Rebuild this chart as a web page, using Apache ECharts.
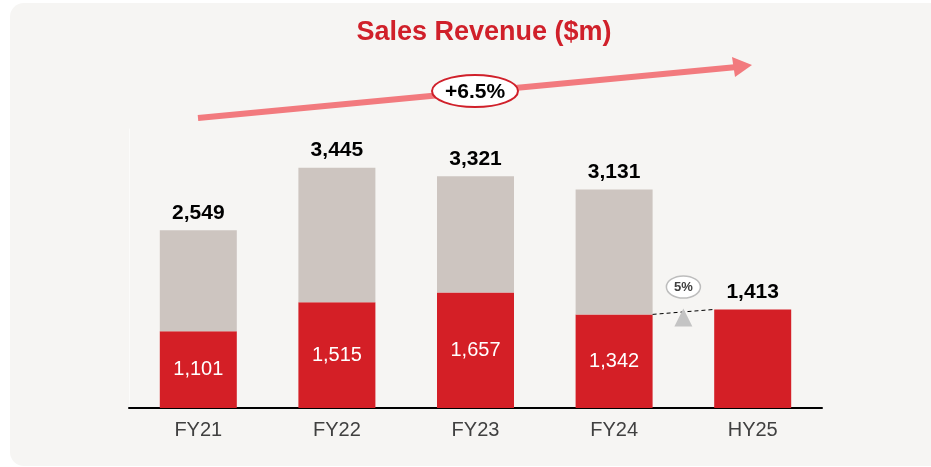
<!DOCTYPE html>
<html><head><meta charset="utf-8">
<script src="https://cdn.jsdelivr.net/npm/echarts@6/dist/echarts.min.js"></script>
<style>html,body{margin:0;padding:0;background:#fff}#c{width:931px;height:467px}</style>
</head><body><div id="c"></div>
<script>
const categories = ['FY21','FY22','FY23','FY24','HY25'];
const totals = [2549, 3445, 3321, 3131, 1413];
const redValues = [1101, 1515, 1657, 1342, 1413];
const grayValues = [1448, 1930, 1664, 1789, 0];
const cagrLabel = '+6.5%';
const growthLabel = '5%';

const chart = echarts.init(document.getElementById('c'), null, {renderer:'canvas'});
const FONT = 'Liberation Sans, Arial, sans-serif';
const fmt = v => v.toLocaleString('en-US');

chart.setOption({
  backgroundColor: '#ffffff',
  animation: false,
  grid: {left: 129, right: 109, top: 129, bottom: 59},
  xAxis: {
    type: 'category', data: categories,
    axisLine: {lineStyle: {color: '#000', width: 2}},
    axisTick: {show: false},
    axisLabel: {color: '#404040', fontSize: 20, fontFamily: FONT, margin: 12}
  },
  yAxis: {
    type: 'value', min: 0, max: 4000,
    axisLine: {show: true, lineStyle: {color: '#fbfbfa', width: 1}},
    splitLine: {show: false}, axisLabel: {show: false}, axisTick: {show: false}
  },
  series: [
    {
      type: 'bar', stack: 'rev', data: redValues, barWidth: 77,
      itemStyle: {color: '#d41f26'},
      label: {show: true, position: 'inside', color: '#fff', fontSize: 20, fontFamily: FONT,
        formatter: p => p.dataIndex === 4 ? '' : fmt(p.value)}
    },
    {
      type: 'bar', stack: 'rev', data: grayValues, barWidth: 77,
      itemStyle: {color: '#cdc5c0'},
      label: {show: true, position: 'top', distance: 7, color: '#000', fontSize: 21, fontWeight: 'bold', fontFamily: FONT,
        formatter: p => fmt(totals[p.dataIndex])}
    }
  ],
  graphic: []
});

const p24 = chart.convertToPixel({gridIndex: 0}, [3, redValues[3]]);
const p25 = chart.convertToPixel({gridIndex: 0}, [4, redValues[4]]);
const half = 38.5;
const midX = (p24[0] + p25[0]) / 2;

chart.setOption({
  graphic: [
    {type: 'rect', z: -10, silent: true, shape: {x: 10, y: 3, width: 940, height: 463, r: 14},
      style: {fill: '#f6f5f3'}},
    {type: 'text', x: 484, y: 33, style: {text: 'Sales Revenue ($m)', fill: '#d0202a',
      font: 'bold 27px ' + FONT, textAlign: 'center', textVerticalAlign: 'middle'}},
    {type: 'line', shape: {x1: 198, y1: 118, x2: 737, y2: 67}, style: {stroke: '#f27a7e', lineWidth: 6}},
    {type: 'polygon', shape: {points: [[752, 65], [732, 57], [735, 77]]}, style: {fill: '#f27a7e'}},
    {type: 'ellipse', shape: {cx: 475, cy: 91, rx: 43, ry: 16}, style: {fill: '#fff', stroke: '#d0202a', lineWidth: 2}, z: 10},
    {type: 'text', x: 475, y: 92, z: 11, style: {text: cagrLabel, fill: '#000', font: 'bold 21px ' + FONT, textAlign: 'center', textVerticalAlign: 'middle'}},
    {type: 'line', shape: {x1: p24[0] + half, y1: p24[1], x2: p25[0] - half, y2: p25[1]}, style: {stroke: '#000', lineWidth: 1, lineDash: [4, 3]}, z: 10},
    {type: 'polygon', shape: {points: [[midX, p25[1] - 1], [midX - 9, p25[1] + 17], [midX + 9, p25[1] + 17]]}, style: {fill: '#c4c4c4'}, z: 11},
    {type: 'ellipse', shape: {cx: midX, cy: 287, rx: 17, ry: 11}, style: {fill: '#fff', stroke: '#bdbdbd', lineWidth: 1.5}, z: 10},
    {type: 'text', x: midX, y: 287, z: 11, style: {text: growthLabel, fill: '#404040', font: 'bold 13px ' + FONT, textAlign: 'center', textVerticalAlign: 'middle'}}
  ]
});
</script></body></html>
